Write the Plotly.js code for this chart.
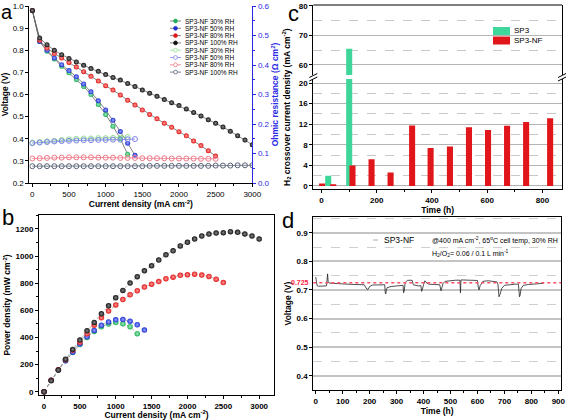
<!DOCTYPE html>
<html>
<head>
<meta charset="utf-8">
<script src="https://cdn.plot.ly/plotly-3.0.1.min.js"></script>
<style>html,body{margin:0;padding:0;background:#fff}#chart{width:569px;height:420px}</style>
</head>
<body>
<div id="chart"></div>
<script>
// ---------- DATA ----------
// Panel a: polarization curves (current density mA/cm2, voltage V)
const curA30  = [0,100,200,300,400,500,600,700,800,900,1000,1100,1200,1300];
const vA30    = [0.98,0.84,0.795,0.76,0.728,0.698,0.668,0.636,0.60,0.555,0.51,0.457,0.40,0.33];
const curA50  = [0,100,200,300,400,500,600,700,800,900,1000,1100,1200,1300,1400];
const vA50    = [0.98,0.84,0.80,0.765,0.735,0.708,0.68,0.648,0.612,0.572,0.53,0.484,0.433,0.38,0.325];
const curA80  = [0,100,200,300,400,500,600,700,800,900,1000,1100,1200,1300,1400,1500,1600,1700,1800,1900,2000,2100,2200,2300,2400,2500];
const vA80    = [0.98,0.845,0.81,0.785,0.765,0.745,0.724,0.703,0.682,0.661,0.64,0.62,0.598,0.574,0.552,0.53,0.51,0.49,0.47,0.452,0.432,0.413,0.39,0.369,0.346,0.322];
const curA100 = [0,100,200,300,400,500,600,700,800,900,1000,1100,1200,1300,1400,1500,1600,1700,1800,1900,2000,2100,2200,2300,2400,2500,2600,2700,2800,2900,3000];
const vA100   = [0.98,0.855,0.825,0.80,0.78,0.763,0.747,0.732,0.717,0.705,0.69,0.677,0.665,0.65,0.636,0.62,0.606,0.592,0.577,0.563,0.55,0.535,0.519,0.503,0.486,0.47,0.453,0.434,0.414,0.394,0.373];
// Panel a: ohmic resistance (ohm cm2)
const rA30  = [0.137,0.139,0.141,0.143,0.146,0.148,0.150,0.151,0.151,0.152,0.152,0.153,0.154,0.156];
const rA50  = [0.135,0.137,0.139,0.141,0.142,0.143,0.144,0.145,0.145,0.146,0.146,0.147,0.147,0.148,0.149];
const rA80  = [0.083,0.084,0.085,0.086,0.086,0.087,0.087,0.087,0.087,0.086,0.086,0.086,0.085,0.085,0.085,0.084,0.084,0.084,0.084,0.083,0.083,0.083,0.083,0.082,0.082,0.082];
const rA100 = [0.057,0.057,0.057,0.057,0.057,0.057,0.057,0.057,0.057,0.057,0.057,0.057,0.057,0.057,0.057,0.057,0.058,0.058,0.058,0.058,0.058,0.058,0.058,0.058,0.058,0.059,0.059,0.059,0.060,0.060,0.060];
const legendA = ["SP3-NF 30% RH","SP3-NF 50% RH","SP3-NF 80% RH","SP3-NF 100% RH","SP3-NF 30% RH","SP3-NF 50% RH","SP3-NF 80% RH","SP3-NF 100% RH"];
// Panel b: power density (mW/cm2)
const pB30  = [0,84,160,228,290,348,400,445,480,500,510,502,480,428];
const pB50  = [0,84,160,228,292,352,405,452,490,515,530,533,520,494,455];
const pB80  = [0,84,162,236,305,365,428,490,545,595,640,680,715,745,772,793,812,833,845,858,863,867,860,850,830,805];
const pB100 = [0,81,160,240,312,381,450,511,575,634,693,747,801,848,892,929,971,1010,1039,1075,1102,1126,1148,1163,1170,1173,1180,1175,1163,1148,1126];
// Panel c: H2 crossover current density vs time
const tSP3   = [24,100];
const hSP3   = [2.0,65.5];
const tSP3NF = [2,42,112,181,250,328,395,465,534,603,672,741,828];
const hSP3NF = [0.45,0.3,3.95,5.2,2.6,11.75,7.4,7.65,11.4,10.9,11.7,12.45,13.15];
const legendC = ["SP3","SP3-NF"];
// Panel d: durability (time h, voltage V)
const tD = [0,2,5,10,20,30,40,44,46,50,60,80,100,120,140,160,180,185,190,195,200,210,230,250,256,258,260,262,265,280,300,320,324,326,328,332,340,350,358,362,370,380,390,393,395,400,405,410,420,440,460,465,468,472,480,500,520,535,537,539,545,560,580,600,603,606,610,620,640,660,672,676,680,684,690,700,720,740,752,756,758,762,770,790,810,830,845];
const vD = [0.745,0.73,0.715,0.713,0.714,0.713,0.714,0.756,0.73,0.724,0.723,0.722,0.721,0.72,0.72,0.719,0.718,0.71,0.702,0.703,0.712,0.717,0.718,0.718,0.718,0.69,0.686,0.70,0.708,0.712,0.715,0.716,0.716,0.69,0.695,0.726,0.733,0.734,0.733,0.718,0.715,0.714,0.715,0.695,0.70,0.718,0.732,0.725,0.72,0.719,0.718,0.697,0.705,0.722,0.73,0.733,0.734,0.734,0.69,0.735,0.735,0.735,0.734,0.733,0.71,0.70,0.715,0.73,0.732,0.73,0.728,0.72,0.676,0.685,0.705,0.716,0.719,0.72,0.72,0.676,0.68,0.705,0.716,0.719,0.721,0.722,0.723];
const refV = 0.725;

// ---------- LAYOUT HELPERS ----------
const W = 569, H = 420;
const px = x => x / W;
const py = y => 1 - y / H;
const FONT = "Liberation Sans, Arial, sans-serif";
const BLUE = "#2a2ae6";

const filled = [
  {c:"#1fae5a", g:"#9ff0b8"},
  {c:"#2030d0", g:"#9aa8ff"},
  {c:"#e01818", g:"#ff9a9a"},
  {c:"#111111", g:"#888888"}
];
const open = ["#8fe08f","#8080ee","#f07888","#5a6478"];

const traces = [];
const curs = [curA30, curA50, curA80, curA100];
const vs = [vA30, vA50, vA80, vA100];
const rs = [rA30, rA50, rA80, rA100];
const ps = [pB30, pB50, pB80, pB100];

for (let i = 0; i < 4; i++) {
  traces.push({x: curs[i], y: vs[i], xaxis: "x", yaxis: "y", mode: "lines+markers",
    line: {color: "#666", width: 0.8},
    marker: {size: 5, color: filled[i].c, gradient: {type: "radial", color: filled[i].g}, line: {width: 0}}});
}
for (let i = 0; i < 4; i++) {
  traces.push({x: curs[i], y: rs[i], xaxis: "x", yaxis: "y2", mode: "lines+markers",
    line: {color: open[i], width: 0.8},
    marker: {size: 5, symbol: "circle-open", color: open[i], line: {width: 1}}});
}
for (let i = 0; i < 4; i++) {
  traces.push({x: curs[i], y: ps[i], xaxis: "x2", yaxis: "y3", mode: "lines+markers",
    line: {color: "#888", width: 0.6, dash: "dot"},
    marker: {size: 5.5, color: filled[i].c, gradient: {type: "radial", color: filled[i].g}, line: {width: 0}}});
}
// Panel c bars, bottom and top segments
const GREEN_BAR = "#3fd69c", RED_BAR = "#e0161a";
["y4","y5"].forEach(ya => {
  traces.push({type: "bar", x: tSP3, y: hSP3, xaxis: "x3", yaxis: ya, width: 22,
    marker: {color: GREEN_BAR, line: {width: 0}}});
  traces.push({type: "bar", x: tSP3NF, y: hSP3NF, xaxis: "x3", yaxis: ya, width: 22,
    marker: {color: RED_BAR, line: {width: 0}}});
});
// Panel d
traces.push({x: tD, y: vD, xaxis: "x4", yaxis: "y6", mode: "lines",
  line: {color: "#222", width: 0.8}});

const axBase = {showline: true, linecolor: "#000", linewidth: 1, ticks: "outside", ticklen: 3,
  tickcolor: "#000", zeroline: false, showgrid: false,
  tickfont: {family: FONT, size: 8, color: "#000", weight: "bold"}};
const titleFont = {family: FONT, size: 8.5, color: "#000", weight: "bold"};

const layout = {
  width: W, height: H, margin: {l: 0, r: 0, t: 0, b: 0},
  paper_bgcolor: "#fff", plot_bgcolor: "rgba(0,0,0,0)", showlegend: false, barmode: "overlay",
  font: {family: FONT},
  // Panel a
  xaxis: Object.assign({}, axBase, {domain: [px(29.4), px(252.3)], range: [-40, 3000], anchor: "y",
    dtick: 500, minor: {dtick: 250, ticks: "outside", ticklen: 2, tickcolor: "#000"},
    tickfont: {family: FONT, size: 8, color: "#000"},
    title: {text: "Current density (mA cm<sup>-2</sup>)", font: titleFont, standoff: 2}}),
  yaxis: Object.assign({}, axBase, {domain: [py(183), py(6)], range: [0.2, 1.0], anchor: "x",
    dtick: 0.1, tickformat: ".1f", tickfont: {family: FONT, size: 8, color: "#000"},
    title: {text: "Voltage (V)", font: titleFont, standoff: 3}}),
  yaxis2: Object.assign({}, axBase, {overlaying: "y", side: "right", anchor: "x", range: [0, 0.6],
    dtick: 0.1, tickformat: ".1f", linecolor: BLUE, tickcolor: BLUE,
    minor: {dtick: 0.05, ticks: "outside", ticklen: 2, tickcolor: BLUE},
    tickfont: {family: FONT, size: 8, color: BLUE},
    title: {text: "Ohmic resistance (\u03A9 cm<sup>2</sup>)", font: {family: FONT, size: 8.5, color: BLUE, weight: "bold"}, standoff: 3}}),
  // Panel b
  xaxis2: Object.assign({}, axBase, {domain: [px(39), px(274)], range: [-70, 3207], anchor: "y3",
    dtick: 500, mirror: true, minor: {dtick: 250, ticks: "outside", ticklen: 2, tickcolor: "#000"},
    title: {text: "Current density (mA cm<sup>-2</sup>)", font: titleFont, standoff: 3}}),
  yaxis3: Object.assign({}, axBase, {domain: [py(395), py(215)], range: [-24, 1303], anchor: "x2",
    dtick: 200, mirror: true, minor: {dtick: 100, ticks: "outside", ticklen: 2, tickcolor: "#000"},
    title: {text: "Power density (mW cm<sup>-2</sup>)", font: titleFont, standoff: 3}}),
  // Panel c
  xaxis3: Object.assign({}, axBase, {domain: [px(313.3), px(562)], range: [-30, 871], anchor: "y4",
    dtick: 200, minor: {dtick: 100, ticks: "outside", ticklen: 2, tickcolor: "#000"},
    title: {text: "Time (h)", font: titleFont, standoff: 2}}),
  yaxis4: Object.assign({}, axBase, {domain: [py(189), py(79)], range: [-0.6, 20.8], anchor: "x3",
    dtick: 4, tick0: 0, mirror: true, showgrid: true, gridcolor: "#b4b4b4", gridwidth: 1,
    minor: {dtick: 2, tick0: 0, showgrid: true, gridcolor: "#c8c8c8", griddash: "dash", gridwidth: 1, ticks: ""}}),
  yaxis5: Object.assign({}, axBase, {domain: [py(75), py(5)], range: [56.6, 80.3], anchor: "x3",
    dtick: 10, tick0: 60, mirror: true, showgrid: true, gridcolor: "#b4b4b4", gridwidth: 1,
    minor: {dtick: 5, tick0: 55, showgrid: true, gridcolor: "#c8c8c8", griddash: "dash", gridwidth: 1, ticks: ""}}),
  // Panel d
  xaxis4: Object.assign({}, axBase, {domain: [px(313.3), px(561)], range: [-9, 910], anchor: "y6",
    dtick: 100, mirror: true, minor: {dtick: 50, ticks: "outside", ticklen: 2, tickcolor: "#000"},
    title: {text: "Time (h)", font: titleFont, standoff: 3}}),
  yaxis6: Object.assign({}, axBase, {domain: [py(390), py(217)], range: [0.35, 0.955], anchor: "x4",
    dtick: 0.1, tick0: 0.4, tickformat: ".1f", mirror: true, showgrid: true, gridcolor: "#c4c4c4", gridwidth: 2,
    minor: {dtick: 0.05, tick0: 0.35, showgrid: true, gridcolor: "#cfcfcf", griddash: "dash", gridwidth: 1, ticks: ""},
    title: {text: "Voltage (V)", font: titleFont, standoff: 3}}),
  shapes: [],
  annotations: []
};

// Panel letters
[["a", 0, 0, 20], ["b", 1, 204, 22], ["c", 287, 0, 22], ["d", 281, 207, 22]].forEach(([t, x, y, s]) => {
  layout.annotations.push({text: t, x: px(x), y: py(y), xref: "paper", yref: "paper", borderpad: 0,
    xanchor: "left", yanchor: "top", showarrow: false, font: {family: FONT, size: s, color: "#000"}});
});

// Panel a legend (manual)
const legCols = [filled[0].c, filled[1].c, filled[2].c, filled[3].c, open[0], open[1], open[2], open[3]];
legendA.forEach((t, i) => {
  const y = 21 + i * 7.3;
  const isOpen = i >= 4;
  layout.shapes.push({type: "line", xref: "paper", yref: "paper", x0: px(170), x1: px(181), y0: py(y), y1: py(y),
    line: {color: isOpen ? legCols[i] : "#666", width: 0.8}});
  layout.shapes.push({type: "circle", xref: "paper", yref: "paper", x0: px(173.6), x1: px(177.4), y0: py(y + 1.9), y1: py(y - 1.9),
    fillcolor: isOpen ? "#fff" : legCols[i], line: {color: legCols[i], width: 0.8}});
  layout.annotations.push({text: t, x: px(183), y: py(y), xref: "paper", yref: "paper", xanchor: "left", yanchor: "middle",
    showarrow: false, font: {family: FONT, size: 6.5, color: "#000"}});
});

// Panel c legend (manual)
[[GREEN_BAR, 31], [RED_BAR, 40.5]].forEach(([c, y], i) => {
  layout.shapes.push({type: "rect", xref: "paper", yref: "paper", x0: px(493), x1: px(510), y0: py(y + 4), y1: py(y - 4),
    fillcolor: c, line: {width: 0}});
  layout.annotations.push({text: legendC[i], x: px(512), y: py(y), xref: "paper", yref: "paper", xanchor: "left", yanchor: "middle",
    showarrow: false, font: {family: FONT, size: 8, color: "#000"}});
});
// Panel c y title and break marks, top border
layout.annotations.push({text: "H<sub>2</sub> crossover current density (mA cm<sup>-2</sup>)", textangle: -90,
  x: px(286), y: py(107), xref: "paper", yref: "paper", xanchor: "center", yanchor: "middle",
  showarrow: false, font: {family: FONT, size: 8.5, color: "#000", weight: "bold"}});
layout.shapes.push({type: "line", xref: "paper", yref: "paper", x0: px(313.3), x1: px(562), y0: py(5), y1: py(5), line: {color: "#000", width: 1}});
[313.3, 562].forEach(x => {
  layout.shapes.push({type: "line", xref: "paper", yref: "paper", x0: px(x - 4), x1: px(x + 4), y0: py(77.5), y1: py(73.5), line: {color: "#000", width: 1}});
  layout.shapes.push({type: "line", xref: "paper", yref: "paper", x0: px(x - 4), x1: px(x + 4), y0: py(81), y1: py(77), line: {color: "#000", width: 1}});
});

// Panel d reference line and texts
layout.shapes.push({type: "line", xref: "x4 domain", yref: "y6", x0: 0, x1: 1, y0: refV, y1: refV,
  line: {color: "#ff4d6a", width: 1.5, dash: "dot"}});
layout.annotations.push({text: String(refV), x: px(311), y: refV, xref: "paper", yref: "y6", xanchor: "right", yanchor: "middle",
  showarrow: false, font: {family: FONT, size: 7, color: "#ff2244", weight: "bold"}});
layout.shapes.push({type: "line", xref: "paper", yref: "paper", x0: px(373), x1: px(378), y0: py(240), y1: py(240), line: {color: "#999", width: 0.8}});
layout.annotations.push({text: "SP3-NF", x: px(382), y: py(240), xref: "paper", yref: "paper", xanchor: "left", yanchor: "middle",
  showarrow: false, font: {family: FONT, size: 8.5, color: "#000"}});
layout.annotations.push({text: "@400 mA cm<sup>-2</sup>, 65<sup>o</sup>C cell temp, 30% RH", x: px(430), y: py(240), xref: "paper", yref: "paper",
  xanchor: "left", yanchor: "middle", showarrow: false, font: {family: FONT, size: 7, color: "#000"}});
layout.annotations.push({text: "H<sub>2</sub>/O<sub>2</sub>= 0.06 / 0.1 L min<sup>-1</sup>", x: px(430), y: py(253), xref: "paper", yref: "paper",
  xanchor: "left", yanchor: "middle", showarrow: false, font: {family: FONT, size: 7, color: "#000"}});

Plotly.newPlot("chart", traces, layout, {staticPlot: true, displayModeBar: false});
</script>
</body>
</html>
